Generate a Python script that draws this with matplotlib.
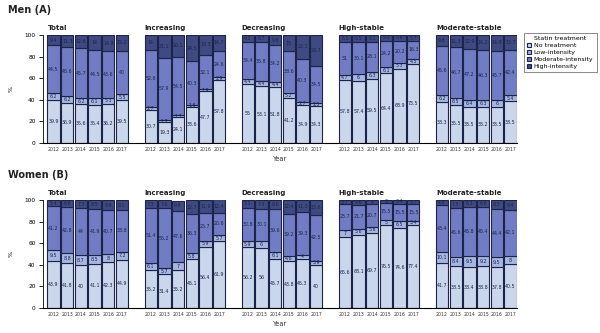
import numpy as np
import matplotlib
matplotlib.use("Agg")
import matplotlib.pyplot as plt
from matplotlib.patches import Patch

years = ["2012", "2013", "2014", "2015", "2016", "2017"]
groups = ["Total", "Increasing", "Decreasing", "High-stable", "Moderate-stable"]
levels = ["No treatment", "Low-intensity", "Moderate-intensity", "High-intensity"]

# ---- Men (A): one list per group, per level (2012..2017)
men_none = [
    [39.9, 36.9, 35.6, 35.4, 36.2, 39.5],
    [30.7, 19.3, 24.1, 33.6, 47.7, 57.8],
    [55, 53.1, 51.8, 41.2, 34.9, 34.3],
    [57.8, 57.4, 59.5, 64.4, 68.9, 73.5],
    [38.3, 35.5, 33.5, 33.2, 33.5, 38.5],
]
men_low = [
    [6.2, 6.2, 6.2, 6.1, 5.3, 5.5],
    [2.7, 1.7, 1.3, 1.6, 1.9, 2.9],
    [4.4, 4.4, 4.4, 5.2, 2.7, 2.5],
    [4.7, 6.0, 6.3, 6.1, 5.3, 4.5],
    [6.2, 6.5, 6.4, 6.3, 6, 5.4],
]
men_mod = [
    [44.5, 45.6, 45.7, 44.5, 43.6, 40],
    [52.6, 57.9, 54.5, 40.3, 32.1, 24.6],
    [34.4, 35.8, 34.2, 38.6, 40.3, 34.5],
    [31, 30.1, 28.1, 24.2, 20.2, 16.3],
    [45.6, 46.7, 47.2, 46.3, 45.7, 42.4],
]
men_high = [
    [9.4, 11.3, 12.6, 14, 14.9, 15.2],
    [14, 21.1, 20.1, 24.5, 18.3, 14.7],
    [6.2, 6.7, 9.6, 15, 22.1, 28.7],
    [6.5, 6.5, 6.1, 5.3, 5.6, 5.7],
    [9.8, 11.3, 12.9, 14.2, 14.8, 13.7],
]

# ---- Women (B)
women_none = [
    [43.9, 41.8, 40, 41.1, 42.3, 44.9],
    [35.2, 31.4, 35.2, 45.1, 56.4, 61.9],
    [56.2, 56, 45.7, 43.8, 45.3, 40],
    [65.6, 68.1, 69.7, 76.5, 74.6, 77.4],
    [41.7, 38.5, 38.4, 38.8, 37.8, 40.5],
]
women_low = [
    [9.5, 8.8, 8.7, 8.5, 8, 7.2],
    [6.1, 5.7, 7.0, 5.8, 5.9, 5.7],
    [5.9, 6, 6.1, 4.6, 4, 3.9],
    [7, 5.6, 5.6, 5, 6.5, 3.4],
    [10.1, 8.4, 9.5, 9.2, 9.5, 8],
]
women_mod = [
    [41.2, 42.8, 44, 41.9, 40.7, 38.8],
    [51.4, 55.2, 47.6, 36.3, 25.7, 20.6],
    [30.8, 30.1, 39.6, 39.2, 39.3, 42.5],
    [23.7, 21.7, 20.7, 15.5, 15.5, 15.5],
    [43.4, 45.6, 45.8, 45.4, 44.4, 42.1],
]
women_high = [
    [5.4, 6.6, 7.3, 8.5, 8.9, 9.1],
    [7.3, 7.6, 9.8, 12.7, 11.9, 12.4],
    [7.1, 7.9, 8.6, 12.4, 11.3, 13.6],
    [3.7, 4.6, 4, 3, 3.4, 3.7],
    [4.8, 7.5, 6.3, 6.6, 8.3, 9.4],
]

colors = ["#c9d6ec", "#a6b6e2", "#717cc4", "#3f4a82"]
edge = "#1c2448"
txt = "#1c2448"

fig = plt.figure(figsize=(6, 3.33), dpi=100)

group_step = 7.1
width = 0.9


def draw_panel(rect, title, data):
    ax = fig.add_axes(rect)
    xs_all = []
    for g, name in enumerate(groups):
        xs = g * group_step + np.arange(len(years))
        xs_all.extend(xs)
        bottom = np.zeros(len(years))
        for k in range(4):
            vals = np.array(data[k][g], dtype=float)
            ax.bar(xs, vals, width, bottom=bottom, color=colors[k],
                   edgecolor=edge, linewidth=0.8, zorder=2)
            for x, b, v in zip(xs, bottom, vals):
                ax.text(x, b + v / 2, f"{v:g}", ha="center", va="center",
                        fontsize=3.4, color=txt, zorder=3)
            bottom += vals
        ax.text(xs[0] - width / 2, 104, name, fontsize=5, fontweight="bold",
                ha="left", va="bottom", color="#222222")
    ax.set_xticks(xs_all)
    ax.set_xticklabels(years * len(groups), fontsize=3.3, color="#333333")
    ax.tick_params(axis="x", length=0, pad=3)
    ax.set_ylim(0, 100)
    ax.set_yticks([0, 20, 40, 60, 80, 100])
    ax.tick_params(axis="y", labelsize=4.2, length=3, width=0.6, pad=2)
    ax.set_xlim(-width / 2 - 0.35, xs_all[-1] + width / 2)
    for s in ["top", "right"]:
        ax.spines[s].set_visible(False)
    ax.spines["left"].set_linewidth(0.6)
    ax.spines["bottom"].set_linewidth(0.8)
    ax.set_ylabel("%", fontsize=4.5, labelpad=8)
    ax.set_xlabel("Year", fontsize=4.8, labelpad=3, color="#333333")
    fig.text(0.013, rect[1] + rect[3] + 0.06, title, fontsize=7,
             fontweight="bold", color="#222222", va="bottom")
    return ax


ax1 = draw_panel([0.071, 0.571, 0.79, 0.324], "Men (A)",
                 [men_none, men_low, men_mod, men_high])
ax2 = draw_panel([0.071, 0.075, 0.79, 0.324], "Women (B)",
                 [women_none, women_low, women_mod, women_high])

handles = [Patch(facecolor=c, edgecolor=edge, linewidth=0.8) for c in colors]
leg = fig.legend(handles, levels, title="Statin treatment",
                 loc="upper left", bbox_to_anchor=(0.873, 0.9),
                 fontsize=4.5, title_fontsize=4.5, frameon=True,
                 handlelength=0.7, handleheight=0.7, handletextpad=0.4,
                 labelspacing=0.25, borderpad=0.5, borderaxespad=0,
                 fancybox=False)
leg.get_frame().set_edgecolor("#555555")
leg.get_frame().set_linewidth(0.6)

fig.savefig("out.png", dpi=100)
